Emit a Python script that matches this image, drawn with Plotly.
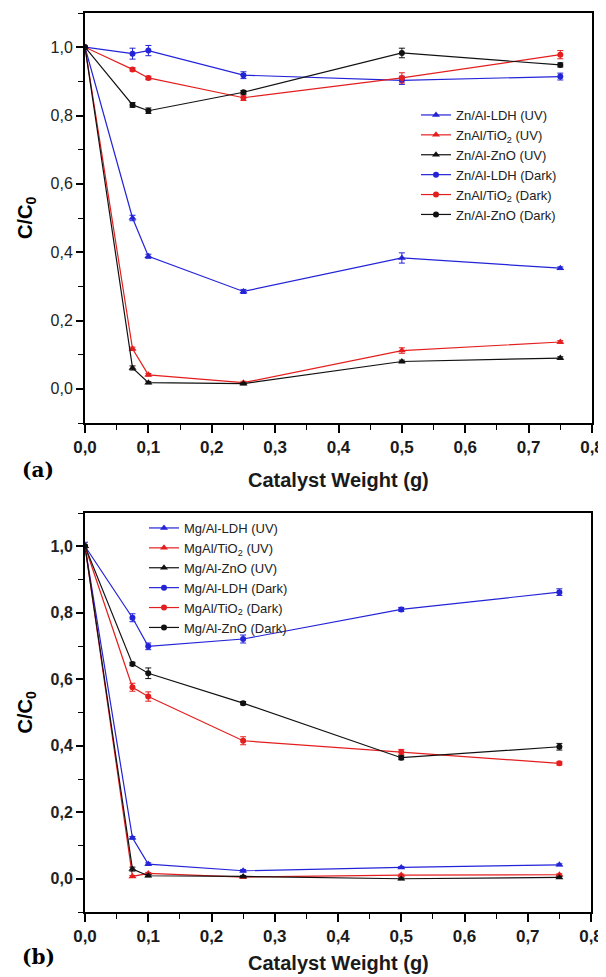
import plotly.graph_objects as go

x = [0.0, 0.075, 0.1, 0.25, 0.5, 0.75]

# Panel (a) Zn/Al
a_names = ["Zn/Al-LDH (UV)", "ZnAl/TiO<sub>2</sub> (UV)", "Zn/Al-ZnO (UV)",
           "Zn/Al-LDH (Dark)", "ZnAl/TiO<sub>2</sub> (Dark)", "Zn/Al-ZnO (Dark)"]
a_ldh_uv = [1.0, 0.50, 0.388, 0.285, 0.383, 0.353]
a_tio2_uv = [1.0, 0.117, 0.041, 0.018, 0.112, 0.137]
a_zno_uv = [1.0, 0.061, 0.018, 0.015, 0.080, 0.090]
a_ldh_dark = [1.0, 0.981, 0.990, 0.918, 0.903, 0.914]
a_tio2_dark = [1.0, 0.935, 0.910, 0.852, 0.910, 0.978]
a_zno_dark = [1.0, 0.831, 0.814, 0.868, 0.983, 0.948]
a_ldh_uv_err = [0.0, 0.008, 0.006, 0.006, 0.015, 0.004]
a_tio2_uv_err = [0.0, 0.005, 0.004, 0.004, 0.008, 0.004]
a_zno_uv_err = [0.0, 0.006, 0.003, 0.003, 0.004, 0.004]
a_ldh_dark_err = [0.0, 0.016, 0.015, 0.010, 0.012, 0.010]
a_tio2_dark_err = [0.0, 0.005, 0.005, 0.008, 0.015, 0.012]
a_zno_dark_err = [0.0, 0.007, 0.008, 0.005, 0.014, 0.006]

# Panel (b) Mg/Al
b_names = ["Mg/Al-LDH (UV)", "MgAl/TiO<sub>2</sub> (UV)", "Mg/Al-ZnO (UV)",
           "Mg/Al-LDH (Dark)", "MgAl/TiO<sub>2</sub> (Dark)", "Mg/Al-ZnO (Dark)"]
b_ldh_uv = [1.0, 0.123, 0.044, 0.024, 0.034, 0.042]
b_tio2_uv = [1.0, 0.007, 0.016, 0.005, 0.011, 0.012]
b_zno_uv = [1.0, 0.029, 0.009, 0.007, 0.0, 0.004]
b_ldh_dark = [1.0, 0.785, 0.699, 0.721, 0.810, 0.862]
b_tio2_dark = [1.0, 0.576, 0.548, 0.415, 0.381, 0.347]
b_zno_dark = [1.0, 0.646, 0.618, 0.528, 0.364, 0.397]
b_ldh_uv_err = [0.0, 0.004, 0.004, 0.004, 0.003, 0.003]
b_tio2_uv_err = [0.0, 0.003, 0.003, 0.003, 0.003, 0.003]
b_zno_uv_err = [0.0, 0.006, 0.003, 0.003, 0.003, 0.003]
b_ldh_dark_err = [0.012, 0.012, 0.010, 0.012, 0.006, 0.010]
b_tio2_dark_err = [0.0, 0.012, 0.014, 0.012, 0.008, 0.005]
b_zno_dark_err = [0.0, 0.005, 0.016, 0.005, 0.006, 0.010]

x_ticks = [0.0, 0.1, 0.2, 0.3, 0.4, 0.5, 0.6, 0.7, 0.8]
y_ticks = [0.0, 0.2, 0.4, 0.6, 0.8, 1.0]

BLUE = "#2323d8"
RED = "#e41e1e"
BLACK = "#111111"
colors = [BLUE, RED, BLACK, BLUE, RED, BLACK]
symbols = ["triangle-up"] * 3 + ["circle"] * 3
msizes = [7, 7, 7, 6, 6, 6]

fig = go.Figure()


def add_panel(names, ys, errs, xa, ya, legend):
    for i, (nm, yv, ev) in enumerate(zip(names, ys, errs)):
        fig.add_trace(go.Scatter(
            x=x, y=yv, name=nm, mode="lines+markers",
            line=dict(color=colors[i], width=1.2),
            marker=dict(symbol=symbols[i], size=msizes[i], color=colors[i]),
            error_y=dict(type="data", array=ev, color=colors[i], thickness=1, width=3),
            xaxis=xa, yaxis=ya, legend=legend,
        ))


add_panel(a_names, [a_ldh_uv, a_tio2_uv, a_zno_uv, a_ldh_dark, a_tio2_dark, a_zno_dark],
          [a_ldh_uv_err, a_tio2_uv_err, a_zno_uv_err, a_ldh_dark_err, a_tio2_dark_err, a_zno_dark_err],
          "x", "y", "legend")
add_panel(b_names, [b_ldh_uv, b_tio2_uv, b_zno_uv, b_ldh_dark, b_tio2_dark, b_zno_dark],
          [b_ldh_uv_err, b_tio2_uv_err, b_zno_uv_err, b_ldh_dark_err, b_tio2_dark_err, b_zno_dark_err],
          "x2", "y2", "legend2")

# page has an 8px body margin; figure sized to fit the 606x977 window
OFF = 8
W, H = 606 - OFF, 977 - OFF
FONT = "Liberation Sans, Arial, sans-serif"


def px(v):
    return (v - OFF) / W


def py(v):
    return 1 - (v - OFF) / H


def xaxis(dom, anchor):
    return dict(domain=dom, anchor=anchor, range=[0, 0.8], tickvals=x_ticks,
                tickformat=".1f", showline=True, linecolor="black", linewidth=2,
                mirror=True, ticks="outside", ticklen=8, tickwidth=1.5, tickcolor="black",
                minor=dict(dtick=0.05, ticks="outside", ticklen=5, tickwidth=1.3, tickcolor="black"),
                showgrid=False, zeroline=False,
                tickfont=dict(family=FONT, size=17, color="#1a1a1a", weight="bold"))


def yaxis(dom, anchor, bold):
    return dict(domain=dom, anchor=anchor, range=[-0.1, 1.1], tickvals=y_ticks,
                tickformat=".1f", showline=True, linecolor="black", linewidth=2,
                mirror=True, ticks="outside", ticklen=7, tickwidth=1.5, tickcolor="black",
                minor=dict(dtick=0.1, ticks="outside", ticklen=5, tickwidth=1.3, tickcolor="black"),
                showgrid=False, zeroline=False,
                tickfont=dict(family=FONT, size=16, color="#222222",
                              weight="bold" if bold else "normal"))


fig.update_layout(
    width=W, height=H,
    margin=dict(l=0, r=0, t=0, b=0, pad=0, autoexpand=False),
    paper_bgcolor="white", plot_bgcolor="white",
    separators=",.",
    showlegend=True,
    xaxis=xaxis([px(85), px(592)], "y"),
    yaxis=yaxis([py(423), py(13)], "x", False),
    xaxis2=xaxis([px(85), px(591)], "y2"),
    yaxis2=yaxis([py(912), py(513)], "x2", True),
    legend=dict(x=px(416), y=py(100), xanchor="left", yanchor="top",
                bgcolor="rgba(0,0,0,0)", tracegroupgap=0,
                font=dict(family=FONT, size=13, color="#222222")),
    legend2=dict(x=px(144), y=py(513), xanchor="left", yanchor="top",
                 bgcolor="rgba(0,0,0,0)", tracegroupgap=0,
                 font=dict(family=FONT, size=13, color="#222222")),
)

ann = []
for cy, ty, lab, ly in [((13 + 423) / 2, 480, "(a)", 470), ((513 + 912) / 2, 963, "(b)", 957)]:
    ann.append(dict(text="C/C<sub>0</sub>", x=px(26), y=py(cy), xref="paper", yref="paper",
                    textangle=-90, showarrow=False, xanchor="center", yanchor="middle",
                    font=dict(family=FONT, size=20, color="black", weight="bold")))
    ann.append(dict(text="Catalyst Weight (g)", x=px(338), y=py(ty), xref="paper", yref="paper",
                    showarrow=False, xanchor="center", yanchor="middle",
                    font=dict(family=FONT, size=20, color="#1a1a1a", weight="bold")))
    ann.append(dict(text=lab, x=px(20), y=py(ly), xref="paper", yref="paper",
                    showarrow=False, xanchor="left", yanchor="middle",
                    font=dict(family="DejaVu Serif, serif", size=20, color="black", weight="bold")))
fig.update_layout(annotations=ann)

fig.write_html("out.html")
